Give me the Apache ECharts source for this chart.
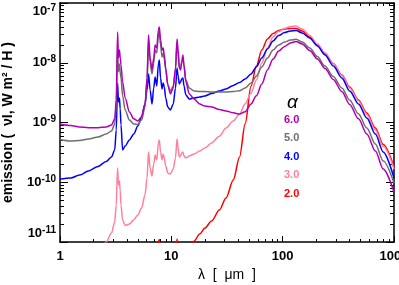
<!DOCTYPE html>
<html>
<head>
<meta charset="utf-8">
<script src="https://cdn.jsdelivr.net/npm/echarts@6/dist/echarts.min.js"></script>
<style>
html,body{margin:0;padding:0;background:#fff;}
#chart{width:399px;height:285px;}
</style>
</head>
<body>
<div id="chart"></div>
<script>
// wavelength grid (micron)
const wavelengths = [1, 1.25, 1.5, 1.8, 2.2, 2.6, 2.9, 3.1, 3.2, 3.29, 3.35, 3.42, 3.47, 3.53,
  3.65, 3.85, 4.2, 4.6, 5.0, 5.4, 5.8,
  6.05, 6.24, 6.45, 6.7, 6.95, 7.15, 7.4, 7.65, 7.8,
  8.0, 8.25, 8.45, 8.65, 8.9, 9.3, 9.8,
  10.4, 10.9, 11.25, 11.5, 11.8, 12.1, 12.4, 12.7, 13.0, 13.5,
  14.5, 16, 18, 20, 23, 27, 31, 36, 41, 46,
  52, 58, 65, 73, 82, 92, 104, 117, 132,
  150, 175, 205, 240, 285, 340, 400, 480, 570, 680, 800, 1000];

const alphaLabels = ['6.0', '5.0', '4.0', '3.0', '2.0'];

const emission60 = [9.44e-10, 8.91e-10, 8.41e-10, 8.19e-10, 8.19e-10, 8.41e-10, 9.09e-10, 1.15e-9, 2.38e-9, 3.27e-8, 1.2e-8, 1.63e-8, 1.25e-8, 9.17e-9,
  4.76e-9, 2.57e-9, 1.5e-9, 1.15e-9, 1.06e-9, 1.24e-9, 2.04e-9,
  5.56e-9, 2.91e-8, 1.2e-8, 7.57e-9, 1.2e-8, 1.98e-8, 1.77e-8, 3.53e-8, 3.97e-8,
  2.4e-8, 1.63e-8, 1.77e-8, 1.35e-8, 8.17e-9, 4.25e-9, 3.0e-9,
  3.78e-9, 8.17e-9, 2.5e-8, 1.63e-8, 8.17e-9, 7.57e-9, 1.03e-8, 1.35e-8, 9.17e-9, 4.8e-9,
  3.0e-9, 2.47e-9, 2.04e-9, 1.88e-9, 1.82e-9, 1.65e-9, 1.56e-9, 1.45e-9, 1.39e-9, 1.52e-9,
  2.04e-9, 2.8e-9, 4.4e-9, 7.57e-9, 1.15e-8, 1.57e-8, 1.87e-8, 2.14e-8, 2.27e-8,
  2.06e-8, 1.6e-8, 1.16e-8, 8.0e-9, 5.25e-9, 3.3e-9, 2.0e-9, 1.15e-9, 6.43e-10, 3.33e-10, 1.67e-10, 6.87e-11];

const emission50 = [5.19e-10, 4.9e-10, 5.0e-10, 5.3e-10, 5.72e-10, 6.43e-10, 7.21e-10, 9.44e-10, 1.96e-9, 1.63e-8, 7.0e-9, 9.5e-9, 7.0e-9, 5.56e-9,
  2.8e-9, 1.62e-9, 1.1e-9, 9.44e-10, 9.28e-10, 1.1e-9, 1.81e-9,
  4.8e-9, 2.22e-8, 1.03e-8, 6.47e-9, 9.9e-9, 1.63e-8, 1.46e-8, 2.91e-8, 3.27e-8,
  1.98e-8, 1.25e-8, 1.46e-8, 1.15e-8, 7.57e-9, 4.25e-9, 3.37e-9,
  4.09e-9, 7.57e-9, 2.14e-8, 1.4e-8, 8.17e-9, 8.17e-9, 1.03e-8, 1.15e-8, 8.5e-9, 5.14e-9,
  3.78e-9, 3.37e-9, 3.3e-9, 3.3e-9, 3.24e-9, 3.24e-9, 3.24e-9, 3.3e-9, 3.4e-9, 3.78e-9,
  4.59e-9, 5.97e-9, 8.5e-9, 1.2e-8, 1.63e-8, 1.98e-8, 2.22e-8, 2.4e-8, 2.47e-8,
  2.22e-8, 1.77e-8, 1.27e-8, 8.8e-9, 5.89e-9, 3.78e-9, 2.38e-9, 1.39e-9, 8.09e-10, 4.37e-10, 2.27e-10, 9.7e-11];

const emission40 = [1.13e-10, 1.18e-10, 1.32e-10, 1.54e-10, 1.84e-10, 2.23e-10, 2.65e-10, 3.47e-10, 7.5e-10, 4.58e-9, 2.2e-9, 2.57e-9, 1.7e-9, 9.1e-10,
  3.47e-10, 4.05e-10, 5.1e-10, 6.43e-10, 8.7e-10, 1.24e-9, 2.04e-9,
  3.5e-9, 6.47e-9, 3.5e-9, 2.04e-9, 3.78e-9, 5.78e-9, 4.09e-9, 9.53e-9, 1.11e-8,
  5.56e-9, 3.64e-9, 4.59e-9, 3.93e-9, 2.57e-9, 1.81e-9, 1.62e-9,
  2.04e-9, 3.78e-9, 8.17e-9, 6.0e-9, 4.41e-9, 4.76e-9, 5.35e-9, 5.56e-9, 4.09e-9, 2.89e-9,
  2.47e-9, 2.57e-9, 2.67e-9, 2.78e-9, 3.05e-9, 3.37e-9, 3.64e-9, 4.17e-9, 4.67e-9, 5.35e-9,
  6.49e-9, 8.5e-9, 1.2e-8, 1.7e-8, 2.31e-8, 2.86e-8, 3.2e-8, 3.4e-8, 3.46e-8,
  3.15e-8, 2.6e-8, 1.91e-8, 1.35e-8, 8.8e-9, 5.56e-9, 3.37e-9, 2.04e-9, 1.19e-9, 6.43e-10, 3.21e-10, 1.18e-10];

const emission30 = [1.0e-12, 1.5e-12, 2.2e-12, 3.5e-12, 6.0e-12, 1.0e-11, 1.41e-11, 2.16e-11, 4.16e-11, 1.73e-10, 9.0e-11, 1.05e-10, 7.4e-11, 4.16e-11,
  2.34e-11, 1.89e-11, 2.0e-11, 2.34e-11, 2.83e-11, 3.7e-11, 6.1e-11,
  1.18e-10, 3.21e-10, 1.73e-10, 1.27e-10, 2.02e-10, 2.86e-10, 2.36e-10, 4.54e-10, 5.1e-10,
  3.21e-10, 2.36e-10, 2.97e-10, 2.55e-10, 1.87e-10, 1.43e-10, 1.37e-10,
  1.67e-10, 2.55e-10, 5.3e-10, 3.74e-10, 2.65e-10, 2.75e-10, 3.09e-10, 3.21e-10, 2.75e-10, 2.55e-10,
  2.75e-10, 2.97e-10, 3.33e-10, 3.74e-10, 4.54e-10, 5.9e-10, 8.09e-10, 1.06e-9, 1.39e-9, 2.04e-9,
  3.1e-9, 5.14e-9, 9.9e-9, 1.77e-8, 2.7e-8, 3.33e-8, 3.74e-8, 4.04e-8, 4.12e-8,
  3.67e-8, 2.86e-8, 2.06e-8, 1.46e-8, 9.7e-9, 6.12e-9, 3.78e-9, 2.29e-9, 1.36e-9, 7.49e-10, 3.96e-10, 1.67e-10];

const emission20 = [2e-13, 2e-13, 3e-13, 4e-13, 5e-13, 6e-13, 7e-13, 8e-13, 1e-12, 3e-12, 1.5e-12, 1.6e-12, 1.3e-12, 1e-12,
  9e-13, 9e-13, 1e-12, 1.1e-12, 1.3e-12, 1.6e-12, 2.2e-12,
  3.5e-12, 7e-12, 4.5e-12, 3.5e-12, 5e-12, 6.5e-12, 6e-12, 1.02e-11, 1.1e-11,
  7e-12, 5e-12, 6e-12, 5.5e-12, 4e-12, 3e-12, 3e-12,
  3.5e-12, 5e-12, 1.12e-11, 7.5e-12, 5.5e-12, 5.5e-12, 6e-12, 6.5e-12, 6e-12, 6e-12,
  7.5e-12, 1.04e-11, 1.36e-11, 1.71e-11, 2.25e-11, 3.43e-11, 5.45e-11, 1.09e-10, 2.65e-10, 9.4e-10,
  4.08e-9, 8.8e-9, 1.63e-8, 2.5e-8, 3.09e-8, 3.47e-8, 3.67e-8, 3.74e-8, 3.74e-8,
  3.4e-8, 2.7e-8, 1.98e-8, 1.43e-8, 9.7e-9, 6.24e-9, 3.93e-9, 2.38e-9, 1.44e-9, 8.09e-10, 4.28e-10, 1.8e-10];

const seriesValues = [emission60, emission50, emission40, emission30, emission20];
const seriesColors = ['#b000b4', '#6e6e6e', '#0000ff', '#ff809c', '#ff0000'];

const xTickLabels = ['1', '10', '100', '1000'];
const yTickExponents = ['-11', '-10', '-9', '-8', '-7'];

const FONT = 'Liberation Sans, Arial, Helvetica, sans-serif';
const X_MIN = 1, X_MAX = 1000, Y_MIN = 1e-11, Y_MAX = 1e-7;

function frameAxis(extra, tickLen, minorLen) {
  return Object.assign({
    type: 'log', logBase: 10,
    splitLine: { show: false },
    minorSplitLine: { show: false },
    axisLine: { show: true, onZero: false, lineStyle: { color: '#000', width: 1.5 } },
    axisTick: { show: true, inside: true, length: tickLen, lineStyle: { color: '#000', width: 1 } },
    minorTick: { show: true, splitNumber: 9, length: minorLen, lineStyle: { color: '#000', width: 1 } },
    axisLabel: { show: false },
  }, extra);
}

const xAxes = [
  frameAxis({
    min: X_MIN, max: X_MAX, position: 'bottom',
    axisLabel: {
      show: true, margin: 8, color: '#000', fontFamily: FONT, fontSize: 13, fontWeight: 'bold',
      formatter: v => xTickLabels[Math.round(Math.log10(v))]
    },
    name: 'λ  [  μm  ]', nameLocation: 'middle', nameGap: 21,
    nameTextStyle: { color: '#000', fontFamily: FONT, fontSize: 14 }
  }, 6, 3),
  frameAxis({ min: X_MIN, max: X_MAX, position: 'top' }, 6, 3)
];

const yAxes = [
  frameAxis({
    min: Y_MIN, max: Y_MAX, position: 'left',
    axisLabel: {
      show: true, margin: 4, color: '#000',
      verticalAlignMaxLabel: 'top',
      verticalAlignMinLabel: 'bottom',
      formatter: v => '{b|10}{s|' + yTickExponents[Math.round(Math.log10(v)) + 11] + '}',
      rich: {
        b: { fontFamily: FONT, fontSize: 13, fontWeight: 'bold', color: '#000' },
        s: { fontFamily: FONT, fontSize: 10, fontWeight: 'bold', color: '#000', padding: [0, 0, 7, 0] }
      }
    },
    name: 'emission (  νI, W m² / H )', nameLocation: 'middle', nameGap: 45, nameRotate: 90,
    nameTextStyle: { color: '#000', fontFamily: FONT, fontSize: 14, fontWeight: 'bold' }
  }, 8, 4),
  frameAxis({ min: Y_MIN, max: Y_MAX, position: 'right' }, 8, 4)
];

// draw order: 2.0 first, 6.0 last (on top)
const series = [];
for (let i = seriesValues.length - 1; i >= 0; i--) {
  series.push({
    name: alphaLabels[i],
    type: 'line',
    xAxisIndex: 0, yAxisIndex: 0,
    showSymbol: false,
    smooth: 0.3,
    smoothMonotone: 'x',
    clip: true,
    animation: false,
    lineStyle: { color: seriesColors[i], width: 1.5 },
    itemStyle: { color: seriesColors[i] },
    data: wavelengths.map((w, k) => [w, seriesValues[i][k]])
  });
}

const chart = echarts.init(document.getElementById('chart'), null, { renderer: 'canvas' });
chart.setOption({
  backgroundColor: '#fff',
  animation: false,
  grid: { left: 60, right: 5, top: 3, bottom: 43, containLabel: false, outerBoundsMode: 'none' },
  xAxis: xAxes,
  yAxis: yAxes,
  legend: {
    orient: 'vertical', left: 278, top: 113, padding: 0,
    itemWidth: 0, itemHeight: 0, itemGap: 5.5,
    selectedMode: false,
    textStyle: { fontFamily: FONT, fontSize: 11, fontWeight: 'bold', lineHeight: 13 },
    data: alphaLabels.map((l, i) => ({ name: l, textStyle: { color: seriesColors[i] } }))
  },
  graphic: [{
    type: 'text', left: 287, top: 93,
    style: { text: 'α', fill: '#000', font: 'italic 19px ' + FONT }
  }],
  series: series
});
</script>
</body>
</html>
